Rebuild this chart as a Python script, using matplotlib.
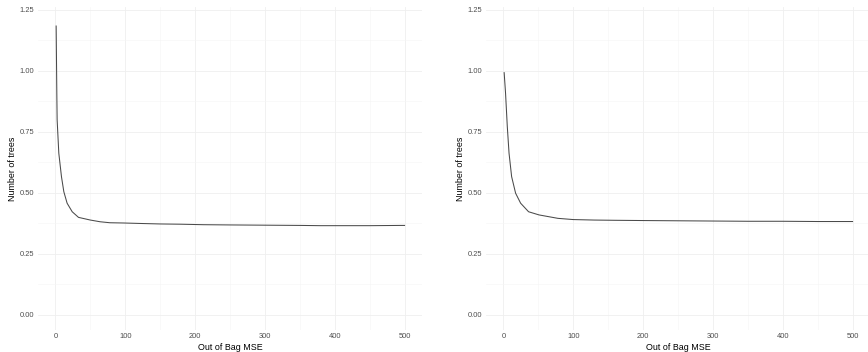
import matplotlib
matplotlib.use('Agg')
import matplotlib.pyplot as plt
import numpy as np

# values (tree count vs OOB MSE)
trees_a = [1, 2, 2.4, 4.8, 8.6, 12, 16.7, 24, 33, 50, 64, 78, 97, 122, 150, 179, 212, 250, 300, 351, 380, 420, 450, 494, 500]
mse_a = [1.184, 0.895, 0.80, 0.663, 0.567, 0.505, 0.458, 0.423, 0.400, 0.389, 0.382, 0.378, 0.377, 0.375, 0.373, 0.372, 0.370, 0.369, 0.368, 0.367, 0.366, 0.366, 0.366, 0.367, 0.367]

trees_b = [1, 3, 5.5, 8, 11.7, 17.4, 24.6, 36, 51, 78, 100, 130, 160, 200, 250, 300, 350, 400, 450, 500]
mse_b = [0.993, 0.909, 0.772, 0.663, 0.567, 0.499, 0.458, 0.423, 0.410, 0.396, 0.391, 0.389, 0.388, 0.387, 0.386, 0.385, 0.384, 0.384, 0.383, 0.383]

yticks = [0.00, 0.25, 0.50, 0.75, 1.00, 1.25]
xticks = [0, 100, 200, 300, 400, 500]

plt.rcParams['font.family'] = ['Liberation Sans', 'DejaVu Sans']

fig = plt.figure(figsize=(8.68, 3.52), dpi=100)
W, H = 868.0, 352.0
panels = [(38, trees_a, mse_a), (486, trees_b, mse_b)]

for left, x, y in panels:
    ax = fig.add_axes([left / W, 22 / H, 384 / W, 323 / H])
    ax.plot(x, y, color='#4a4a4a', lw=0.75)
    ax.set_xlim(-25, 525)
    ax.set_ylim(-0.0615, 1.262)
    ax.set_xticks(xticks)
    ax.set_yticks(yticks)
    ax.set_xticks([50, 150, 250, 350, 450], minor=True)
    ax.set_yticks([0.125, 0.375, 0.625, 0.875, 1.125], minor=True)
    ax.set_yticklabels(['%.2f' % v for v in yticks])
    ax.grid(True, which='major', color='#efefef', lw=0.6)
    ax.grid(True, which='minor', color='#f5f5f5', lw=0.4)
    ax.set_axisbelow(True)
    for s in ax.spines.values():
        s.set_visible(False)
    ax.tick_params(which='both', length=0, labelsize=5.4, labelcolor='#4d4d4d', pad=2.5)
    ax.set_xlabel('Out of Bag MSE', fontsize=6.4, labelpad=1.5)
    ax.set_ylabel('Number of trees', fontsize=6.4, labelpad=2)

fig.savefig('out.png', dpi=100)
